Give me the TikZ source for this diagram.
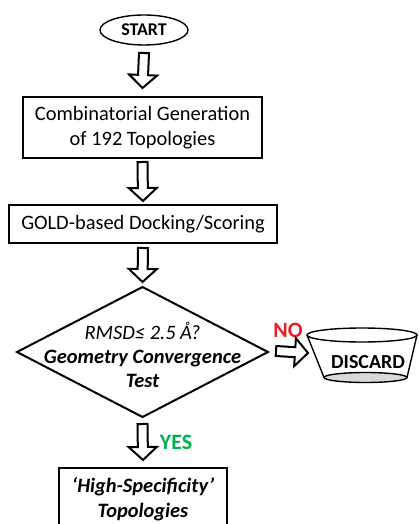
\documentclass[tikz,border=0pt]{standalone}
\usepackage{fontspec}
\setmainfont{Carlito}
\usetikzlibrary{calc,shapes.geometric}
\definecolor{nored}{RGB}{237,28,36}
\definecolor{yesgreen}{RGB}{0,176,80}
\begin{document}
\begin{tikzpicture}[x=1bp,y=-1bp,
  box/.style={draw,line width=1.4bp,inner sep=0pt,outer sep=0pt,align=center,font=\fontsize{20.5}{25}\selectfont},
  blockarrow/.style={line width=2bp,line join=miter,to path={
    (\tikztostart) coordinate (bas) (\tikztotarget) coordinate (bat)
    ($(bat)!13bp!(bas)$) coordinate (bah)
    ($(bas)!5bp!90:(bat)$) -- ($(bah)!5bp!90:(bat)$) -- ($(bah)!14bp!90:(bat)$)
    -- (bat) -- ($(bah)!14bp!-90:(bat)$) -- ($(bah)!5bp!-90:(bat)$)
    -- ($(bas)!5bp!-90:(bat)$) -- cycle}},
  lbl/.style={inner sep=0pt,font=\bfseries\fontsize{22}{22}\selectfont}]
\useasboundingbox (0,0) rectangle (418,524);

\node[draw,ellipse,line width=1.4bp,minimum width=88bp,minimum height=30bp,inner sep=0pt,outer sep=0pt,
  font=\bfseries\fontsize{18}{18}\selectfont] (start) at (144,30) {START};

\node[box,minimum width=239bp,minimum height=61bp] (gen) at (142.5,127.5)
  {Combinatorial Generation\\of 192 Topologies};

\node[box,minimum width=268bp,minimum height=38bp] (dock) at (143,224)
  {GOLD-based Docking/Scoring};

\node[draw,diamond,line width=2bp,minimum width=251bp,minimum height=130bp,
  inner sep=0pt,outer sep=0pt] (test) at (142.5,352) {};
\node[align=center,inner sep=0pt,font=\fontsize{20.5}{24}\selectfont] (testtxt) at (142.5,355)
  {\itshape RMSD≤ 2.5 Å?\\\bfseries\itshape Geometry Convergence\\\bfseries\itshape Test};

\node[box,minimum width=168bp,minimum height=62bp,anchor=north,font=\bfseries\itshape\fontsize{20.5}{25}\selectfont]
  (hs) at (143,468) {‘High-Specificity’\\Topologies};

% discard tub
\draw[line width=1.4bp] (307,335) -- (324,377.5);
\draw[line width=1.4bp] (417,335) -- (407,377.5);
\draw[line width=1.4bp,fill=gray!30] (365.5,377.5) ellipse [x radius=41.5bp, y radius=5bp];
\draw[line width=1.4bp] (362,335) ellipse [x radius=55bp, y radius=7bp];
\node[lbl,font=\bfseries\fontsize{20}{20}\selectfont] (discard) at (368,362) {DISCARD};
\coordinate (discin) at (308,353);

\node[lbl,text=nored] (no) at (288,330) {NO};
\node[lbl,text=yesgreen] (yes) at (176,442) {YES};

\draw[blockarrow] ([yshift=-8bp]start.south) to ([yshift=9bp]gen.north);
\draw[blockarrow] ([yshift=-4bp]gen.south) to ([yshift=4bp]dock.north);
\draw[blockarrow] ([yshift=-5bp]dock.south) to ([yshift=5bp]test.north);
\draw[blockarrow] ([yshift=-7bp]test.south) to ([yshift=8bp]hs.north);
\draw[blockarrow] ([xshift=8bp,yshift=1bp]test.east) to (discin);
\end{tikzpicture}
\end{document}
